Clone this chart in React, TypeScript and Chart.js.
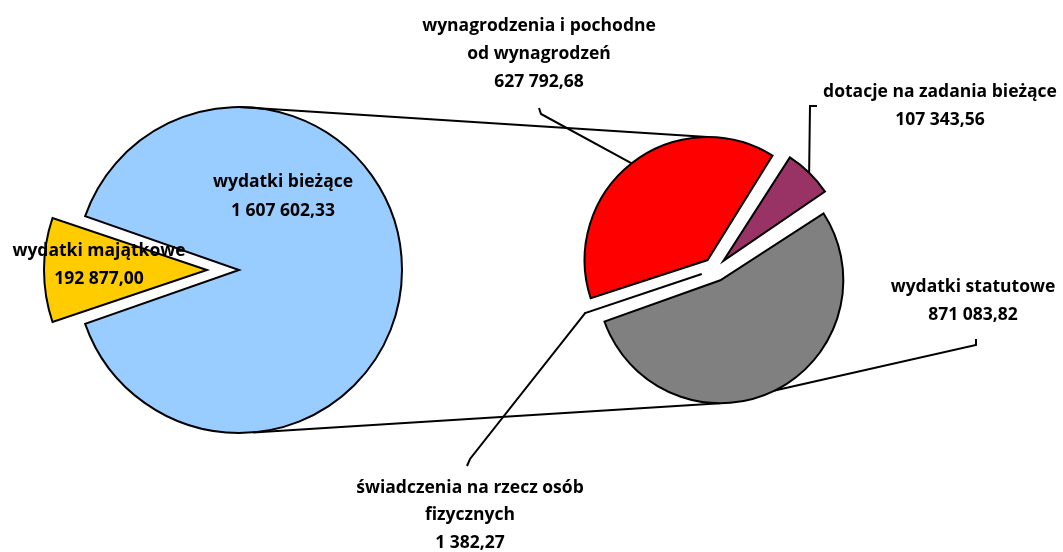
import React, { useEffect, useRef } from 'react';
import { Chart, registerables } from 'chart.js';

Chart.register(...registerables);

// ---- data ----
const mainCategories = ['wydatki bieżące', 'wydatki majątkowe'];
const mainLabelLines = [['wydatki bieżące'], ['wydatki majątkowe']];
const mainValues = [1607602.33, 192877.0];
const mainColors = ['#99CCFF', '#FFCC00'];
const mainExplode = [0, 32];

const detailCategories = [
  'wynagrodzenia i pochodne od wynagrodzeń',
  'dotacje na zadania bieżące',
  'wydatki statutowe',
  'świadczenia na rzecz osób fizycznych',
];
const detailLabelLines = [
  ['wynagrodzenia i pochodne', 'od wynagrodzeń'],
  ['dotacje na zadania bieżące'],
  ['wydatki statutowe'],
  ['świadczenia na rzecz osób', 'fizycznych'],
];
const detailValues = [627792.68, 107343.56, 871083.82, 1382.27];
const detailColors = ['#FF0000', '#993366', '#808080', '#FFFFFF'];
const detailExplode = [12, 12, 12, 14];

const W = 1063;
const H = 552;
const FONT = 'bold 17.5px "Open Sans"';

function fmt(v: number): string {
  const [i, d] = v.toFixed(2).split('.');
  const g = i.replace(/\B(?=(\d{3})+(?!\d))/g, ' ');
  return g + ',' + d;
}

// Chart.js translates an exploded arc by offset/4 and grows its radius; keep radius constant
const explodeFix = {
  id: 'explodeFix',
  beforeDatasetDraw(chart: any, args: any) {
    const meta = args.meta;
    const base = meta.controller.outerRadius;
    meta.data.forEach((el: any) => {
      const off = (el.options.offset || 0) / 4;
      const circ = el.endAngle - el.startAngle;
      const fix = 1 - Math.sin(Math.min(Math.PI, circ));
      el.outerRadius = base - off * fix;
    });
  },
};

function arcGeom(chart: any, i: number) {
  const meta = chart.getDatasetMeta(0);
  const el: any = meta.data[i];
  const R = meta.controller.outerRadius;
  const mid = (el.startAngle + el.endAngle) / 2;
  const off = (el.options.offset || 0) / 4;
  const cx = el.x + Math.cos(mid) * off;
  const cy = el.y + Math.sin(mid) * off;
  return { cx, cy, R, mid };
}

function drawPoly(ctx: CanvasRenderingContext2D, pts: number[][], w: number) {
  ctx.save();
  ctx.strokeStyle = '#000';
  ctx.lineWidth = w;
  ctx.lineJoin = 'miter';
  ctx.beginPath();
  pts.forEach((p, k) => (k ? ctx.lineTo(p[0], p[1]) : ctx.moveTo(p[0], p[1])));
  ctx.stroke();
  ctx.restore();
}

const labelsPlugin = {
  id: 'sliceLabels',
  beforeDatasetsDraw(chart: any, _a: any, opts: any) {
    const ctx = chart.ctx;
    (opts.leaders || []).forEach((ld: any) => {
      const g = arcGeom(chart, ld.index);
      const end = [g.cx + Math.cos(g.mid) * g.R, g.cy + Math.sin(g.mid) * g.R];
      drawPoly(ctx, [...ld.points, end], 2);
    });
    if (opts.connect) opts.connect(chart, ctx);
  },
  afterDatasetsDraw(chart: any, _a: any, opts: any) {
    const ctx = chart.ctx;
    ctx.save();
    ctx.font = FONT;
    ctx.fillStyle = '#000';
    ctx.textAlign = 'center';
    ctx.textBaseline = 'middle';
    (opts.items || []).forEach((it: any) => {
      const lines = [...it.lines, it.value];
      lines.forEach((t: string, k: number) => ctx.fillText(t, it.x, it.y + k * it.lh));
    });
    ctx.restore();
  },
};

export default function App() {
  const leftRef = useRef<HTMLCanvasElement>(null);
  const rightRef = useRef<HTMLCanvasElement>(null);

  useEffect(() => {
    const total = mainValues.reduce((a, b) => a + b, 0);
    const mainRotation = 270 - (360 * (mainValues[0] + mainValues[1] / 2)) / total;

    const left = new Chart(leftRef.current!, {
      type: 'pie',
      data: {
        labels: mainCategories,
        datasets: [
          {
            data: mainValues,
            backgroundColor: mainColors,
            borderColor: '#000',
            borderWidth: 2,
            borderJoinStyle: 'miter',
            offset: mainExplode.map((p) => p * 4),
          } as any,
        ],
      },
      options: {
        responsive: false,
        maintainAspectRatio: false,
        animation: false,
        rotation: mainRotation,
        radius: 163,
        layout: { padding: { left: 0, top: 0, right: 585, bottom: 12 } },
        events: [],
        plugins: {
          legend: { display: false },
          tooltip: { enabled: false },
          sliceLabels: {
            items: [
              { lines: mainLabelLines[0], value: fmt(mainValues[0]), x: 283, y: 182, lh: 29 },
              { lines: mainLabelLines[1], value: fmt(mainValues[1]), x: 99, y: 251, lh: 28.5 },
            ],
          },
        } as any,
      },
      plugins: [explodeFix, labelsPlugin],
    });

    const right = new Chart(rightRef.current!, {
      type: 'pie',
      data: {
        labels: detailCategories,
        datasets: [
          {
            data: detailValues,
            backgroundColor: detailColors,
            borderColor: '#000',
            borderWidth: 2,
            borderJoinStyle: 'miter',
            offset: detailExplode.map((p) => p * 4),
          } as any,
        ],
      },
      options: {
        responsive: false,
        maintainAspectRatio: false,
        animation: false,
        rotation: -108.4,
        radius: 123,
        layout: { padding: { left: 367, top: 0, right: 0, bottom: 13 } },
        events: [],
        plugins: {
          legend: { display: false },
          tooltip: { enabled: false },
          sliceLabels: {
            items: [
              { lines: detailLabelLines[0], value: fmt(detailValues[0]), x: 539, y: 26, lh: 28 },
              { lines: detailLabelLines[1], value: fmt(detailValues[1]), x: 940, y: 92, lh: 28.5 },
              { lines: detailLabelLines[2], value: fmt(detailValues[2]), x: 973, y: 287, lh: 28.5 },
              { lines: detailLabelLines[3], value: fmt(detailValues[3]), x: 470, y: 488, lh: 27.5 },
            ],
            leaders: [
              { index: 0, points: [[539, 108], [541, 114]] },
              { index: 1, points: [[817, 106], [810, 106]] },
              { index: 2, points: [[976, 339], [976, 345]] },
              { index: 3, points: [[467, 466], [470, 459]] },
            ],
            connect: (chart: any, ctx: CanvasRenderingContext2D) => {
              const lm = left.getDatasetMeta(0);
              const lc: any = lm.data[0];
              const LR = (lm.controller as any).outerRadius;
              const top = arcGeom(chart, 0);
              const bot = arcGeom(chart, 2);
              const a1 = -Math.PI / 2;
              const a2 = (85 * Math.PI) / 180;
              drawPoly(ctx, [[lc.x + Math.cos(a1) * LR, lc.y + Math.sin(a1) * LR], [top.cx, top.cy - top.R]], 2);
              drawPoly(ctx, [[lc.x + Math.cos(a2) * LR, lc.y + Math.sin(a2) * LR], [bot.cx, bot.cy + bot.R]], 2);
            },
          },
        } as any,
      },
      plugins: [explodeFix, labelsPlugin],
    });

    return () => {
      right.destroy();
      left.destroy();
    };
  }, []);

  return (
    <div style={{ position: 'absolute', left: 0, top: 0, width: W, height: H, background: '#fff' }}>
      <canvas ref={leftRef} width={W} height={H} style={{ position: 'absolute', left: 0, top: 0 }} />
      <canvas ref={rightRef} width={W} height={H} style={{ position: 'absolute', left: 0, top: 0 }} />
    </div>
  );
}
